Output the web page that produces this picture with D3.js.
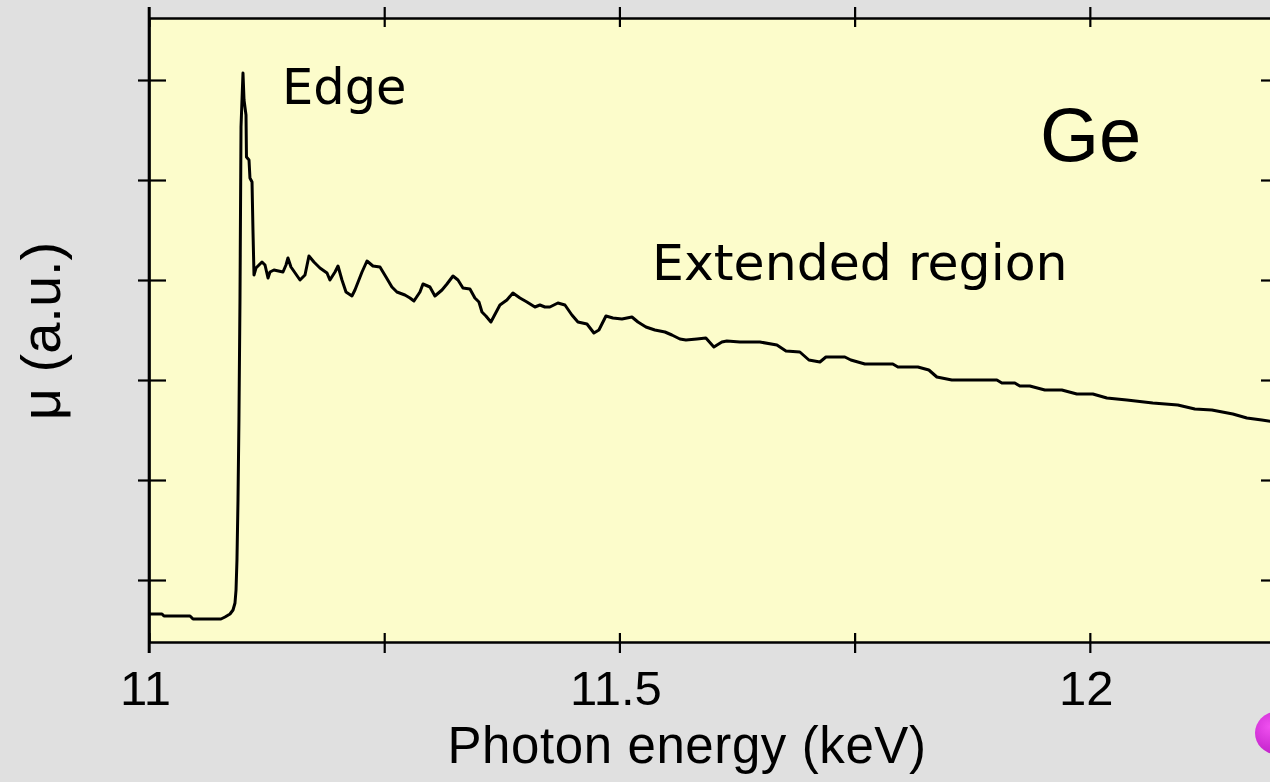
<!DOCTYPE html>
<html lang="en">
<head>
    <meta charset="UTF-8">
    <title>Ge absorption edge</title>
    <script src="https://cdn.jsdelivr.net/npm/d3@7"></script>
    <style>
        body { margin: 0; background: #e0e0e0; }
        svg { display: block; }
        .axis path, .axis line { stroke: #000; }
        .axis text { font-family: "Liberation Sans", Arial, sans-serif; }
    </style>
</head>
<body>
<script>
    const width = 1270, height = 782;

    // photon energy (keV) and absorption (a.u.)
    const energy = [
        11.0000, 11.0138, 11.0159, 11.0436, 11.0468, 11.0765, 11.0808, 11.0861, 11.0893, 11.0914,
        11.0925, 11.0935, 11.0946, 11.0956, 11.0967, 11.0978, 11.0999, 11.1010, 11.1031, 11.1036,
        11.1063, 11.1073, 11.1095, 11.1105, 11.1116, 11.1137, 11.1201, 11.1233, 11.1265, 11.1286,
        11.1328, 11.1424, 11.1456, 11.1477, 11.1509, 11.1605, 11.1658, 11.1700, 11.1753, 11.1817,
        11.1892, 11.1923, 11.1977, 11.2009, 11.2051, 11.2094, 11.2157, 11.2189, 11.2264, 11.2317,
        11.2380, 11.2455, 11.2519, 11.2582, 11.2635, 11.2720, 11.2774, 11.2816, 11.2880, 11.2912,
        11.2986, 11.3039, 11.3114, 11.3167, 11.3231, 11.3284, 11.3337, 11.3411, 11.3464, 11.3507,
        11.3539, 11.3581, 11.3634, 11.3730, 11.3804, 11.3868, 11.3943, 11.4017, 11.4102, 11.4155,
        11.4208, 11.4261, 11.4346, 11.4421, 11.4495, 11.4559, 11.4655, 11.4729, 11.4782, 11.4857,
        11.4931, 11.5027, 11.5133, 11.5197, 11.5282, 11.5377, 11.5484, 11.5558, 11.5643, 11.5707,
        11.5824, 11.5919, 11.6004, 11.6089, 11.6142, 11.6281, 11.6493, 11.6674, 11.6770, 11.6918,
        11.7014, 11.7131, 11.7195, 11.7396, 11.7460, 11.7609, 11.7906, 11.7960, 11.8172, 11.8289,
        11.8374, 11.8533, 11.9012, 11.9065, 11.9203, 11.9256, 11.9362, 11.9522, 11.9702, 11.9862,
        12.0032, 12.0181, 12.0393, 12.0669, 12.0935, 12.1116, 12.1297, 12.1520, 12.1669, 12.1828,
        12.1966
    ];
    const mu = [
        0.66, 0.66, 0.64, 0.64, 0.61, 0.61, 0.63, 0.66, 0.70, 0.77,
        0.90, 1.20, 1.80, 2.60, 3.80, 5.53, 6.07, 5.80, 5.65, 5.23,
        5.20, 5.02, 4.98, 4.50, 4.05, 4.12, 4.18, 4.15, 4.02, 4.08,
        4.10, 4.08, 4.15, 4.22, 4.13, 4.00, 4.05, 4.24, 4.18, 4.12,
        4.07, 4.00, 4.08, 4.14, 4.00, 3.88, 3.84, 3.90, 4.08, 4.19,
        4.14, 4.13, 4.03, 3.93, 3.88, 3.85, 3.82, 3.79, 3.88, 3.96,
        3.93, 3.84, 3.90, 3.96, 4.04, 4.00, 3.92, 3.91, 3.82, 3.78,
        3.68, 3.64, 3.58, 3.75, 3.80, 3.87, 3.82, 3.78, 3.73, 3.75,
        3.73, 3.73, 3.77, 3.75, 3.65, 3.58, 3.56, 3.47, 3.50, 3.64,
        3.62, 3.61, 3.63, 3.58, 3.53, 3.50, 3.48, 3.45, 3.41, 3.40,
        3.41, 3.42, 3.33, 3.38, 3.39, 3.38, 3.38, 3.35, 3.29, 3.28,
        3.20, 3.18, 3.23, 3.23, 3.20, 3.16, 3.16, 3.13, 3.13, 3.10,
        3.03, 3.00, 3.00, 2.97, 2.97, 2.94, 2.94, 2.90, 2.90, 2.86,
        2.86, 2.82, 2.80, 2.77, 2.75, 2.71, 2.70, 2.66, 2.62, 2.60,
        2.58
    ];

    const xTicks = [11, 11.25, 11.5, 11.75, 12];
    const xLabels = [11, 11.5, 12];
    const yTicks = [1, 2, 3, 4, 5, 6];

    const plotLeft = 149, plotRight = 1278, plotTop = 18, plotBottom = 642;

    const x = d3.scaleLinear().domain([11, 12.2]).range([plotLeft, plotRight]);
    const y = d3.scaleLinear().domain([0.38, 6.62]).range([plotBottom, plotTop]);

    const svg = d3.select("body").append("svg")
        .attr("width", width)
        .attr("height", height);

    svg.append("rect")
        .attr("width", width).attr("height", height)
        .attr("fill", "#e0e0e0");

    // plot area
    svg.append("rect")
        .attr("x", plotLeft).attr("y", plotTop)
        .attr("width", plotRight - plotLeft).attr("height", plotBottom - plotTop)
        .attr("fill", "#fcfccb");

    // bottom axis, ticks crossing the frame
    const gx = svg.append("g").attr("class", "axis")
        .attr("transform", `translate(0,${plotBottom})`)
        .call(d3.axisBottom(x).tickValues(xTicks).tickSize(11).tickSizeOuter(0)
            .tickFormat(d => xLabels.includes(d) ? d3.format("")(d) : ""));
    gx.select(".domain").attr("stroke-width", 2.6);
    gx.selectAll(".tick line").attr("y1", -9).attr("stroke-width", 2.2);
    gx.selectAll(".tick text").attr("x", -4).attr("y", 63).attr("dy", 0)
        .attr("font-size", 49).attr("fill", "#000");

    // top axis
    const gt = svg.append("g").attr("class", "axis")
        .attr("transform", `translate(0,${plotTop})`)
        .call(d3.axisTop(x).tickValues(xTicks).tickSize(11).tickSizeOuter(0).tickFormat(""));
    gt.select(".domain").attr("stroke-width", 2.6);
    gt.selectAll(".tick line").attr("y1", 9).attr("stroke-width", 2.2);

    // left axis
    const gy = svg.append("g").attr("class", "axis")
        .attr("transform", `translate(${plotLeft},0)`)
        .call(d3.axisLeft(y).tickValues(yTicks).tickSize(11).tickSizeOuter(0).tickFormat(""));
    gy.select(".domain").attr("stroke-width", 2.6);
    gy.selectAll(".tick line").attr("x1", 17).attr("stroke-width", 2.2);
    gy.append("line").attr("x1", 0).attr("x2", 0)
        .attr("y1", plotTop - 11).attr("y2", plotBottom + 11)
        .attr("stroke", "#000").attr("stroke-width", 2.6);

    // right axis (mostly off the page)
    const gr = svg.append("g").attr("class", "axis")
        .attr("transform", `translate(${plotRight},0)`)
        .call(d3.axisRight(y).tickValues(yTicks).tickSize(11).tickSizeOuter(0).tickFormat(""));
    gr.select(".domain").attr("stroke-width", 2.6);
    gr.selectAll(".tick line").attr("x1", -17).attr("stroke-width", 2.2);

    // spectrum
    const line = d3.line()
        .x(d => x(d[0]))
        .y(d => y(d[1]));

    svg.append("path")
        .datum(d3.zip(energy, mu))
        .attr("d", line)
        .attr("fill", "none")
        .attr("stroke", "#000")
        .attr("stroke-width", 3)
        .attr("stroke-linejoin", "round");

    // labels
    svg.append("text")
        .attr("x", 282).attr("y", 104)
        .attr("font-family", "DejaVu Sans, sans-serif")
        .attr("font-size", 49.5)
        .text("Edge");

    svg.append("text")
        .attr("x", 652).attr("y", 280)
        .attr("font-family", "DejaVu Sans, sans-serif")
        .attr("font-size", 50.5)
        .text("Extended region");

    svg.append("text")
        .attr("x", 1040).attr("y", 161)
        .attr("font-family", "Liberation Sans, Arial, sans-serif")
        .attr("font-size", 76)
        .text("Ge");

    svg.append("text")
        .attr("x", 687).attr("y", 763)
        .attr("text-anchor", "middle")
        .attr("font-family", "Liberation Sans, Arial, sans-serif")
        .attr("font-size", 51)
        .attr("letter-spacing", 0.6)
        .text("Photon energy (keV)");

    svg.append("text")
        .attr("transform", "translate(60,331) rotate(-90)")
        .attr("text-anchor", "middle")
        .attr("font-family", "Liberation Sans, Arial, sans-serif")
        .attr("font-size", 56)
        .text("μ (a.u.)");

    // magenta dot in the corner
    const grad = svg.append("defs").append("radialGradient")
        .attr("id", "dot").attr("cx", "35%").attr("cy", "35%").attr("r", "70%");
    grad.append("stop").attr("offset", "0%").attr("stop-color", "#f050f0");
    grad.append("stop").attr("offset", "100%").attr("stop-color", "#c020c8");
    svg.append("circle")
        .attr("cx", 1276).attr("cy", 733).attr("r", 21)
        .attr("fill", "url(#dot)");
</script>
</body>
</html>
